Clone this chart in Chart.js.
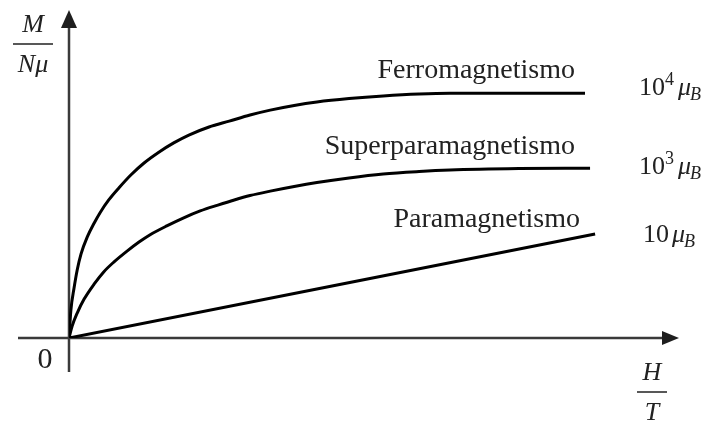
<!DOCTYPE html>
<html>
<head>
<meta charset="utf-8">
<script src="https://cdn.jsdelivr.net/npm/chart.js@4/dist/chart.umd.min.js"></script>
<style>
    html, body { margin: 0; padding: 0; background: #fff; }
    #magChart { display: block; }
</style>
</head>
<body>
<canvas id="magChart" width="708" height="421"></canvas>
<script>
// Magnetization curves M/Nμ against H/T (arbitrary units)
const curveNames = ['Ferromagnetismo', 'Superparamagnetismo', 'Paramagnetismo'];
const momentLabels = [['10', '4'], ['10', '3'], ['10', '']];

const hFerro = [0, 0.03, 0.08, 0.13, 0.19, 0.29, 0.40, 0.49, 0.63, 0.79, 0.98, 1.19, 1.43, 1.66, 1.90, 2.22, 2.54, 2.87, 3.19, 3.57, 3.93, 4.44, 4.98, 5.55, 6.04, 7.13, 8.18];
const mFerro = [0, 0.114, 0.204, 0.278, 0.343, 0.413, 0.470, 0.511, 0.564, 0.613, 0.666, 0.715, 0.760, 0.797, 0.829, 0.862, 0.886, 0.911, 0.931, 0.950, 0.964, 0.978, 0.989, 0.997, 1.0, 1.0, 1.0];

const hSuper = [0, 0.05, 0.13, 0.24, 0.40, 0.55, 0.71, 0.92, 1.11, 1.28, 1.55, 1.81, 2.08, 2.36, 2.62, 2.87, 3.19, 3.57, 3.93, 4.44, 4.98, 5.55, 6.04, 7.13, 8.26];
const mSuper = [0, 0.049, 0.102, 0.159, 0.221, 0.270, 0.310, 0.355, 0.392, 0.421, 0.458, 0.490, 0.519, 0.543, 0.564, 0.582, 0.600, 0.619, 0.635, 0.654, 0.670, 0.680, 0.686, 0.692, 0.694];

const hPara = [0, 8.34];
const mPara = [0, 0.425];

// axis ends (arrow tips) in data units
const H_MAX = 9.67;
const M_MAX = 1.34;

const toPoints = (xs, ys) => xs.map((x, i) => ({ x: x, y: ys[i] }));

const SERIF = '"Liberation Serif", "DejaVu Serif", serif';
const INK = '#222';

// Draw the two axes with arrow heads, crossing at the origin
const axesPlugin = {
    id: 'axes',
    beforeDatasetsDraw(chart) {
        const { ctx, scales } = chart;
        const x0 = scales.x.getPixelForValue(0);
        const y0 = scales.y.getPixelForValue(0);
        const xEnd = scales.x.getPixelForValue(H_MAX);
        const yEnd = scales.y.getPixelForValue(M_MAX);
        ctx.save();
        ctx.strokeStyle = '#3a3a3a';
        ctx.fillStyle = '#1e1e1e';
        ctx.lineWidth = 2.5;
        ctx.beginPath();
        ctx.moveTo(x0 - 51, y0);
        ctx.lineTo(xEnd - 14, y0);
        ctx.moveTo(x0, y0 + 34);
        ctx.lineTo(x0, yEnd + 14);
        ctx.stroke();
        // arrow heads
        ctx.beginPath();
        ctx.moveTo(xEnd, y0);
        ctx.lineTo(xEnd - 17, y0 - 7);
        ctx.lineTo(xEnd - 17, y0 + 7);
        ctx.closePath();
        ctx.fill();
        ctx.beginPath();
        ctx.moveTo(x0, yEnd);
        ctx.lineTo(x0 - 8, yEnd + 18);
        ctx.lineTo(x0 + 8, yEnd + 18);
        ctx.closePath();
        ctx.fill();
        ctx.restore();
    }
};

// Stacked fraction label like M / Nμ
function drawFraction(ctx, cx, top, bottom, lineY, lineHalf) {
    ctx.font = 'italic 26px ' + SERIF;
    ctx.textAlign = 'center';
    ctx.fillText(top, cx, lineY - 12);
    ctx.fillText(bottom, cx, lineY + 28);
    ctx.fillRect(cx - lineHalf, lineY - 0.75, lineHalf * 2, 1.5);
}

// "10^n μB" moment labels
function drawMoment(ctx, x, baseline, base, power) {
    ctx.textAlign = 'left';
    ctx.font = '26px ' + SERIF;
    ctx.fillText(base, x, baseline);
    let cx = x + ctx.measureText(base).width;
    if (power) {
        ctx.font = '18px ' + SERIF;
        ctx.fillText(power, cx, baseline - 10);
        cx += ctx.measureText(power).width;
    }
    cx += power ? 4 : 3;
    ctx.font = 'italic 26px ' + SERIF;
    ctx.fillText('μ', cx, baseline);
    cx += ctx.measureText('μ').width;
    ctx.font = 'italic 18px ' + SERIF;
    ctx.fillText('B', cx - 1, baseline + 5);
}

const labelsPlugin = {
    id: 'labels',
    afterDatasetsDraw(chart) {
        const { ctx, scales } = chart;
        const x0 = scales.x.getPixelForValue(0);
        const y0 = scales.y.getPixelForValue(0);
        ctx.save();
        ctx.fillStyle = INK;
        ctx.textBaseline = 'alphabetic';

        // curve names, right-aligned above each curve end
        ctx.font = '28px ' + SERIF;
        ctx.textAlign = 'right';
        ctx.fillText(curveNames[0], 575, 78);
        ctx.fillText(curveNames[1], 575, 154);
        ctx.fillText(curveNames[2], 580, 227);

        drawMoment(ctx, 639, 95, momentLabels[0][0], momentLabels[0][1]);
        drawMoment(ctx, 639, 174, momentLabels[1][0], momentLabels[1][1]);
        drawMoment(ctx, 643, 242, momentLabels[2][0], momentLabels[2][1]);

        // origin
        ctx.font = '30px ' + SERIF;
        ctx.textAlign = 'center';
        ctx.fillText('0', x0 - 24, y0 + 30);

        drawFraction(ctx, 33, 'M', 'Nμ', 44, 20);
        drawFraction(ctx, 652, 'H', 'T', 392, 15);
        ctx.restore();
    }
};

function createMagnetizationChart() {
    const ctx = document.getElementById('magChart').getContext('2d');
    const lineStyle = {
        borderColor: '#000',
        borderWidth: 3,
        pointRadius: 0,
        fill: false,
        cubicInterpolationMode: 'monotone'
    };
    new Chart(ctx, {
        type: 'line',
        data: {
            datasets: [
                { label: curveNames[0], data: toPoints(hFerro, mFerro), ...lineStyle },
                { label: curveNames[1], data: toPoints(hSuper, mSuper), ...lineStyle },
                { label: curveNames[2], data: toPoints(hPara, mPara), ...lineStyle }
            ]
        },
        options: {
            responsive: false,
            animation: false,
            devicePixelRatio: 1,
            layout: { padding: { left: 69, right: 29, top: 10, bottom: 83 } },
            scales: {
                x: { type: 'linear', display: false, min: 0, max: H_MAX },
                y: { type: 'linear', display: false, min: 0, max: M_MAX }
            },
            plugins: {
                legend: { display: false },
                tooltip: { enabled: false }
            }
        },
        plugins: [axesPlugin, labelsPlugin]
    });
}

document.addEventListener('DOMContentLoaded', createMagnetizationChart);
</script>
</body>
</html>
